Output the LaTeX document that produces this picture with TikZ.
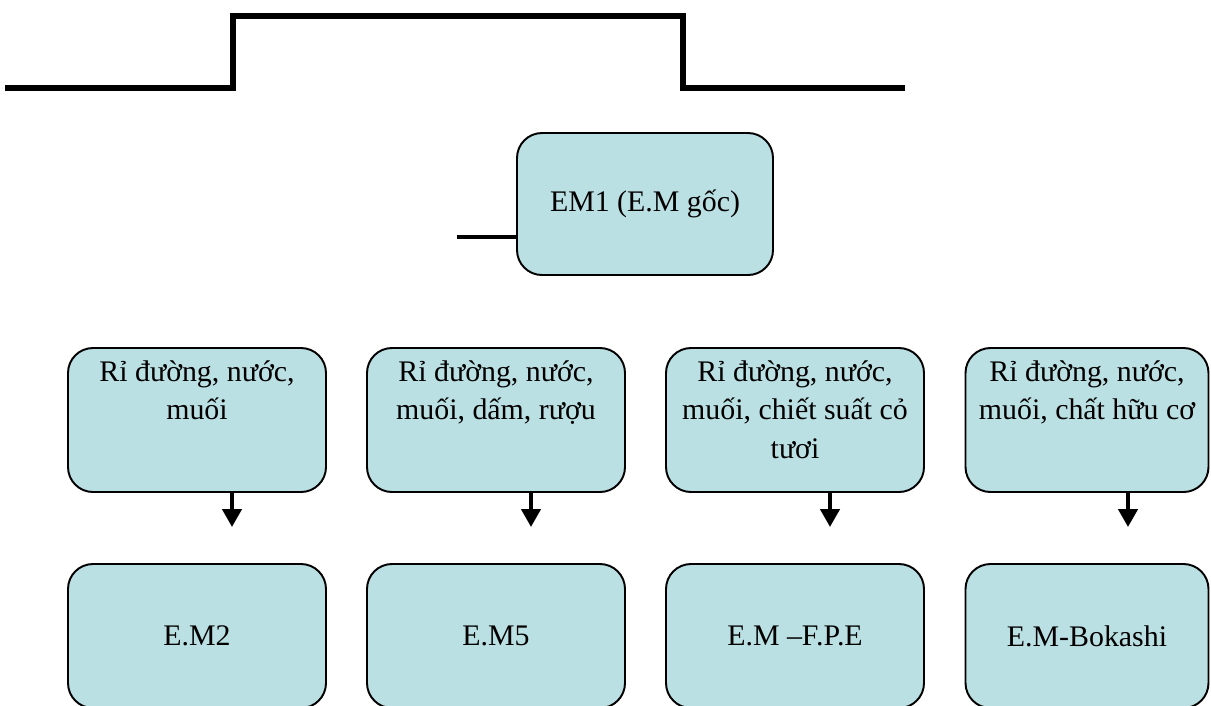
\documentclass[tikz,border=0pt]{standalone}
\usepackage{fontspec}
\setmainfont{Liberation Serif}
\usepackage{tikz}
\usetikzlibrary{positioning,arrows.meta}
\usepackage{xcolor}
\definecolor{boxfill}{HTML}{BBE0E3}

\tikzset{
    stage/.style={draw, line width=1.1pt, rounded corners=0.5cm, fill=boxfill,
        inner sep=0pt, minimum width=5.16cm, minimum height=2.88cm, align=center},
    feed/.style={draw, line width=2.4pt, -{Triangle[length=0.36cm,width=0.38cm]}},
}
\newcommand{\toptext}[1]{\parbox[c][2.38cm][t]{4.8cm}{\centering #1}}

\begin{document}
\begin{tikzpicture}[node distance=5.98cm, font=\fontsize{17}{22}\selectfont]
    \clip (0,0) rectangle (24.22,-14.1);

    % step line
    \draw [line width=3.2pt] (0.1,-1.76) -- (4.66,-1.76) -- (4.66,-0.32) -- (13.66,-0.32) -- (13.66,-1.76) -- (18.1,-1.76);

    \node (em1) [stage, minimum width=5.12cm, minimum height=2.84cm] at (12.9,-4.08) {EM1 (E.M gốc)};
    \coordinate (stub) at (9.14,-4.74);
    \draw [line width=2.8pt] (stub) -- (stub -| em1.west);

    \node (mix1) [stage] at (3.94,-8.4) {\toptext{Rỉ đường, nước,\\ muối}};
    \node (mix2) [stage, right of=mix1] {\toptext{Rỉ đường, nước,\\ muối, dấm, rượu}};
    \node (mix3) [stage, right of=mix2] {\toptext{Rỉ đường, nước,\\ muối, chiết suất cỏ\\ tươi}};
    \node (mix4) [stage, right of=mix3, node distance=5.84cm, minimum width=4.86cm] {\toptext{Rỉ đường, nước,\\ muối, chất hữu cơ}};

    \node (em2) [stage, below of=mix1, node distance=4.32cm] {E.M2};
    \node (em5) [stage, below of=mix2, node distance=4.32cm] {E.M5};
    \node (fpe) [stage, below of=mix3, node distance=4.32cm] {E.M –F.P.E};
    \node (bokashi) [stage, below of=mix4, node distance=4.32cm, minimum width=4.86cm] {E.M-Bokashi};

    \draw [feed, shorten >=0.72cm] ([xshift=0.7cm]mix1.south) -- ([xshift=0.7cm]em2.north);
    \draw [feed, shorten >=0.72cm] ([xshift=0.7cm]mix2.south) -- ([xshift=0.7cm]em5.north);
    \draw [feed, shorten >=0.72cm] ([xshift=0.7cm]mix3.south) -- ([xshift=0.7cm]fpe.north);
    \draw [feed, shorten >=0.72cm] ([xshift=0.82cm]mix4.south) -- ([xshift=0.82cm]bokashi.north);
\end{tikzpicture}
\end{document}
